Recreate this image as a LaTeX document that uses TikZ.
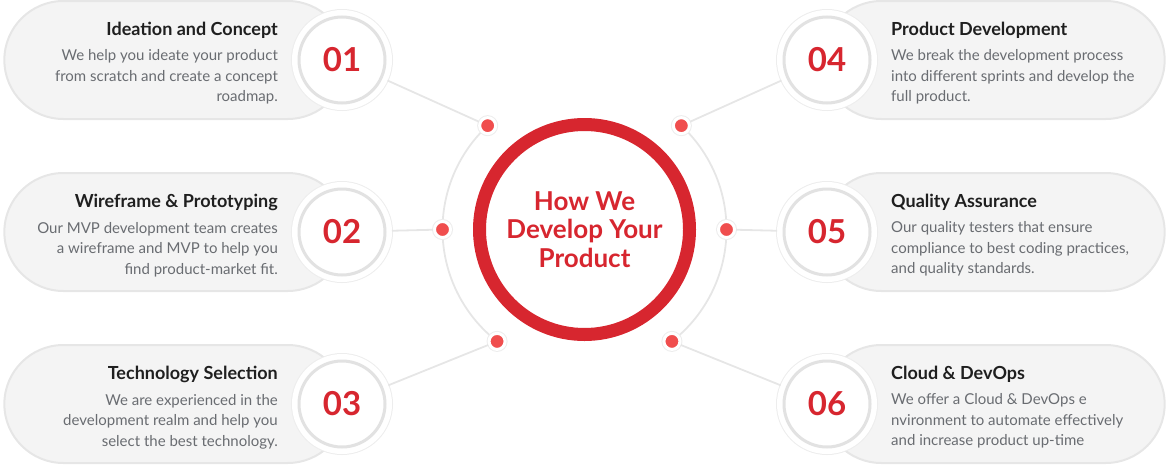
\documentclass[tikz,border=0pt]{standalone}
\usepackage{fontspec}
\setmainfont{Lato}
\usetikzlibrary{shapes.misc,positioning}
\definecolor{brand}{HTML}{D7262F}
\definecolor{dotred}{HTML}{F04E4E}
\definecolor{pillgray}{HTML}{F4F4F4}
\definecolor{edgegray}{HTML}{E6E6E6}
\definecolor{ringgray}{HTML}{E2E2E2}
\definecolor{bodygray}{HTML}{696C71}

\begin{document}
\begin{tikzpicture}[x=1pt,y=-1pt,
  pill/.style={rounded rectangle,draw=edgegray,line width=2pt,fill=pillgray,
    minimum width=349pt,minimum height=118pt},
  num/.style={circle,minimum size=86pt,inner sep=0pt,outer sep=7pt,fill=white,
    draw=ringgray,line width=3pt,
    preaction={draw=black!7,line width=16pt},preaction={draw=white,line width=14pt},
    text=brand,font=\bfseries\fontsize{33}{33}\selectfont},
  dotnode/.style={circle,minimum size=16pt,inner sep=0pt,fill=dotred,
    preaction={draw=black!7,line width=5pt},draw=white,line width=3pt},
  link/.style={draw=edgegray,line width=1.8pt},
  ttl/.style={inner sep=0pt,text=black!88,font=\bfseries\fontsize{18}{20}\selectfont},
  txt/.style={inner sep=0pt,text=bodygray,font=\fontsize{15}{20.5}\selectfont}]
\useasboundingbox (0,0) rectangle (1169,466);

\node[circle,minimum size=210pt,draw=brand,line width=13pt,fill=white,
  text=brand,align=center,font=\bfseries\fontsize{26}{28.5}\selectfont]
  (hub) at (584.5,229.5) {How We\\Develop Your\\Product};

\draw[link] (hub.center) ++(227:142) arc[start angle=227,end angle=128,radius=142];
\draw[link] (hub.center) ++(-47:142) arc[start angle=-47,end angle=52,radius=142];

\path (hub.center) ++(227:142) node[dotnode] (d1) {};
\path (hub.center) ++(180:142) node[dotnode] (d2) {};
\path (hub.center) ++(128:142) node[dotnode] (d3) {};
\path (hub.center) ++(-47:142) node[dotnode] (d4) {};
\path (hub.center) ++(0:142) node[dotnode] (d5) {};
\path (hub.center) ++(52:142) node[dotnode] (d6) {};

\node[pill] (p1) at (175.5,60) {};
\node[pill] (p2) at (175.5,232) {};
\node[pill] (p3) at (175.5,404) {};
\node[pill] (p4) at (993.5,60) {};
\node[pill] (p5) at (993.5,232) {};
\node[pill] (p6) at (993.5,404) {};

\node[num] (n1) at (342,60) {01};
\node[num] (n2) at (342,232) {02};
\node[num] (n3) at (342,404) {03};
\node[num] (n4) at (827,60) {04};
\node[num] (n5) at (827,232) {05};
\node[num] (n6) at (827,404) {06};

\draw[link] (n1) -- (d1);
\draw[link] (n2) -- (d2);
\draw[link] (n3) -- (d3);
\draw[link] (n4) -- (d4);
\draw[link] (n5) -- (d5);
\draw[link] (n6) -- (d6);

\node[ttl,anchor=base east] (t1) at (278,35) {Ideation and Concept};
\node[txt,align=right,below left=11.5pt and 0pt of t1.south east] (b1)
  {We help you ideate your product\\from scratch and create a concept\\roadmap.};
\node[ttl,anchor=base east] (t2) at (278,207) {Wireframe \& Prototyping};
\node[txt,align=right,below left=11.5pt and 0pt of t2.south east] (b2)
  {Our MVP development team creates\\a wireframe and MVP to help you\\find product-market fit.};
\node[ttl,anchor=base east] (t3) at (278,379) {Technology Selection};
\node[txt,align=right,below left=11.5pt and 0pt of t3.south east] (b3)
  {We are experienced in the\\development realm and help you\\select the best technology.};

\node[ttl,anchor=base west] (t4) at (891,35) {Product Development};
\node[txt,align=left,below right=11.5pt and 0pt of t4.south west] (b4)
  {We break the development process\\into different sprints and develop the\\full product.};
\node[ttl,anchor=base west] (t5) at (891,207) {Quality Assurance};
\node[txt,align=left,below right=11.5pt and 0pt of t5.south west] (b5)
  {Our quality testers that ensure\\compliance to best coding practices,\\and quality standards.};
\node[ttl,anchor=base west] (t6) at (891,379) {Cloud \& DevOps};
\node[txt,align=left,below right=11.5pt and 0pt of t6.south west] (b6)
  {We offer a Cloud \& DevOps e\\nvironment to automate effectively\\and increase product up-time};
\end{tikzpicture}
\end{document}
